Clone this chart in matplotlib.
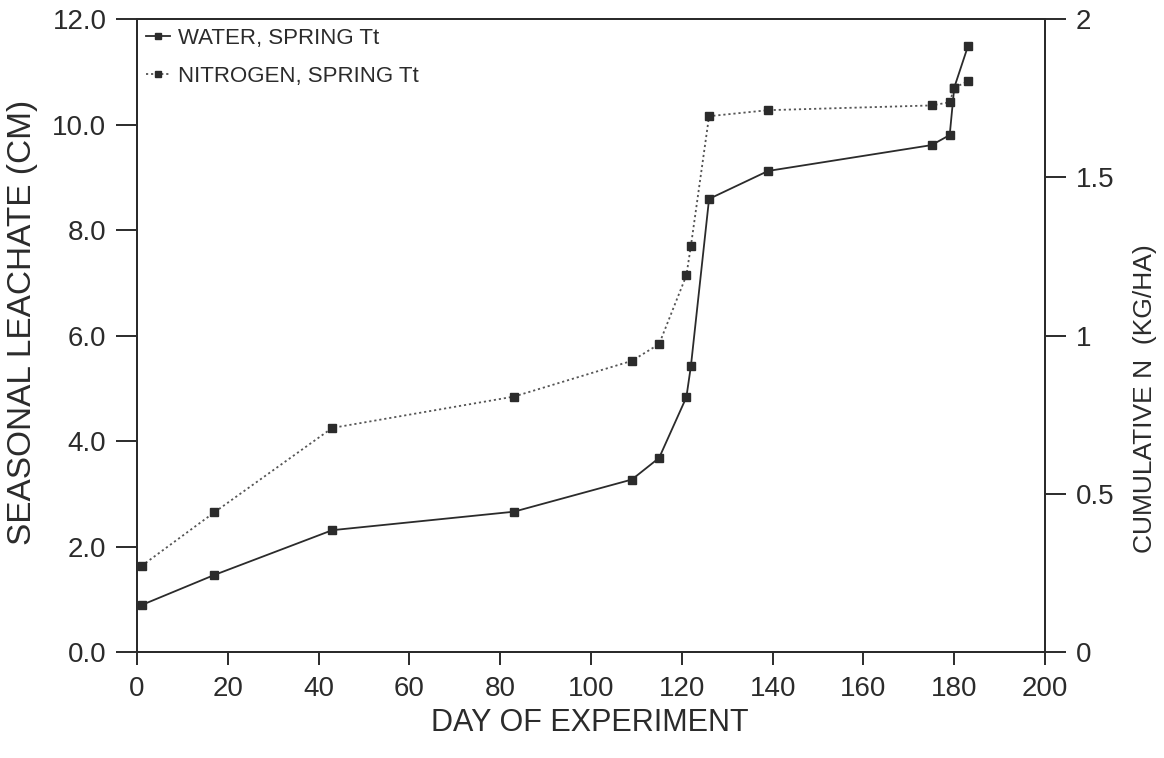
import matplotlib
matplotlib.use("Agg")
import matplotlib.pyplot as plt

# day of experiment for each sampling
days = [1, 17, 43, 83, 109, 115, 121, 122, 126, 139, 175, 179, 180, 183]
# seasonal leachate, cm (left axis)
water = [0.89, 1.46, 2.31, 2.66, 3.27, 3.68, 4.83, 5.42, 8.59, 9.12, 9.61, 9.80, 10.70, 11.48]
# cumulative N, kg/ha (right axis)
nitrogen = [0.272, 0.441, 0.708, 0.807, 0.920, 0.973, 1.190, 1.283, 1.693, 1.712,
            1.727, 1.737, 1.783, 1.803]

plt.rcParams['font.family'] = ['Liberation Sans', 'DejaVu Sans']

fig = plt.figure(figsize=(11.64, 7.58), dpi=100)
ax = fig.add_axes([0.1177, 0.1398, 0.7801, 0.8351])
ax2 = ax.twinx()

ink = "#2b2b2b"
l1, = ax.plot(days, water, color=ink, lw=1.3, marker="s", ms=5.5,
              mfc=ink, mec=ink, label="WATER, SPRING Tt")
l2, = ax2.plot(days, nitrogen, color="#555555", lw=1.3, ls=(0, (1.2, 1.6)),
               marker="s", ms=5.5, mfc=ink, mec=ink, label="NITROGEN, SPRING Tt")

ax.set_xlim(0, 200)
ax.set_ylim(0, 12)
ax2.set_ylim(0, 2)
ax.set_xticks(range(0, 201, 20))
ax.set_yticks([0, 2, 4, 6, 8, 10, 12])
ax.set_yticklabels(["%.1f" % v for v in [0, 2, 4, 6, 8, 10, 12]])
ax2.set_yticks([0, 0.5, 1, 1.5, 2])
ax2.set_yticklabels(["0", "0.5", "1", "1.5", "2"])

for a in (ax, ax2):
    for s in a.spines.values():
        s.set_linewidth(1.4)
        s.set_color(ink)
ax.tick_params(axis="y", direction="out", length=15, width=1.4, labelsize=20,
               colors=ink, pad=7)
ax.tick_params(axis="x", direction="out", length=9, width=1.4, labelsize=20,
               colors=ink, pad=8)
ax2.tick_params(axis="y", direction="out", length=15, width=1.4, labelsize=20,
                colors=ink, pad=7)

ax.set_xlabel("DAY OF EXPERIMENT", fontsize=22, color=ink)
ax.set_ylabel("SEASONAL LEACHATE (CM)", fontsize=24, color=ink)
ax2.set_ylabel("CUMULATIVE N  (KG/HA)", fontsize=19, color=ink)
ax.xaxis.set_label_coords(0.499, -0.088)
ax.yaxis.set_label_coords(-0.109, 0.52)
ax2.yaxis.set_label_coords(1.097, 0.40)

leg = ax.legend(handles=[l1, l2], loc="upper left", frameon=False, fontsize=16,
                handlelength=1.1, handletextpad=0.35, labelspacing=0.75,
                borderaxespad=0.0, markerscale=0.8, bbox_to_anchor=(0.0, 1.0))
for t in leg.get_texts():
    t.set_color(ink)

fig.savefig("out.png", dpi=100)
